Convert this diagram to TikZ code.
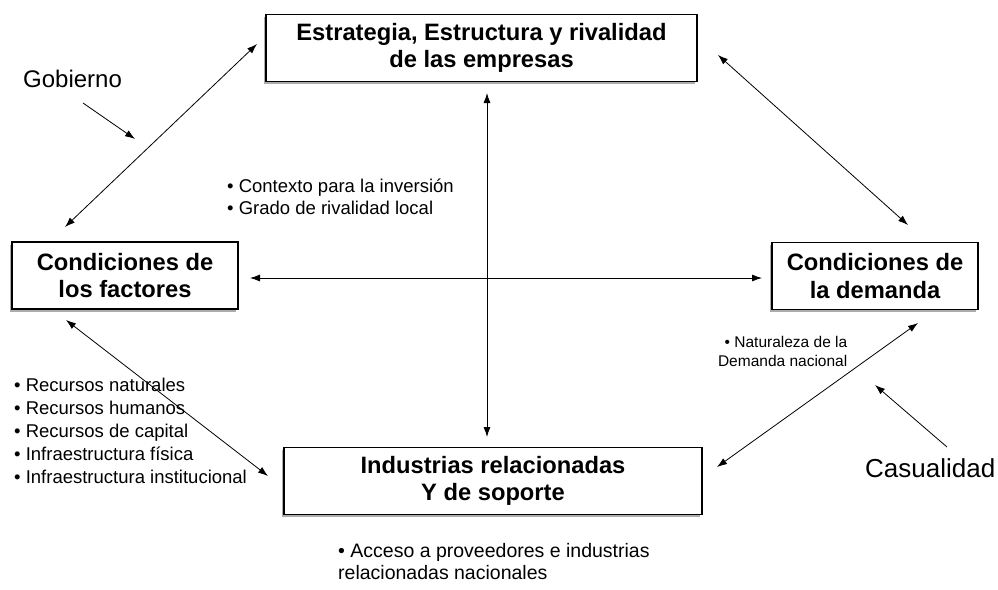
\documentclass[tikz,border=0pt]{standalone}
\usepackage{fontspec}
\setmainfont{Liberation Sans}
\usetikzlibrary{arrows.meta,shadows}
\begin{document}
\begin{tikzpicture}[x=1pt,y=-1pt,
  box/.style={draw=black, line width=1.1pt, fill=white, minimum width=#1, minimum height=67pt,
    align=center, inner sep=0pt, font=\fontsize{23.7}{27.5}\selectfont\bfseries,
    general shadow={fill=gray!65, shadow xshift=-2.5pt, shadow yshift=-2.5pt}},
  link/.style={line width=0.8pt, {Latex[length=10pt,width=7pt]}-{Latex[length=10pt,width=7pt]}},
  oneway/.style={line width=0.8pt, -{Latex[length=10pt,width=7pt]}},
  txt/.style={inner sep=0pt, font=\fontsize{18.5}{22.5}\selectfont},
  big/.style={inner sep=0pt, anchor=base west}
]
\useasboundingbox (0,0) rectangle (998,589);

% boxes
\node[box=431pt] (top) at (481.5,48) {Estrategia, Estructura y rivalidad\\de las empresas};
\node[box=226pt] (left) at (125,275.5) {Condiciones de\\los factores};
\node[box=206pt] (right) at (875,276) {Condiciones de\\la demanda};
\node[box=418pt] (bot) at (493,481) {Industrias relacionadas\\Y de soporte};

% arrow ends
\coordinate (hL) at (250,278);
\coordinate (hR) at (762,278);
\coordinate (vT) at (487,93);
\coordinate (vB) at (487,437);
\coordinate (tlA) at (257,44);
\coordinate (tlB) at (65,227);
\coordinate (trA) at (718,55);
\coordinate (trB) at (908,225);
\coordinate (blA) at (66,320);
\coordinate (blB) at (268,476);
\coordinate (brA) at (918,323);
\coordinate (brB) at (717,467);
\coordinate (gA) at (83,103);
\coordinate (gB) at (135,139);
\coordinate (cA) at (947,447);
\coordinate (cB) at (875,385);

\draw[link] (hL) -- (hR);
\draw[link] (vT) -- (vB);
\draw[link] (tlA) -- (tlB);
\draw[link] (trA) -- (trB);
\draw[link] (blA) -- (blB);
\draw[link] (brA) -- (brB);
\draw[oneway] (gA) -- (gB);
\draw[oneway] (cA) -- (cB);

% labels
\node[big, font=\fontsize{24}{28}\selectfont] (gob) at (23,87) {Gobierno};
\node[big, font=\fontsize{26}{30}\selectfont] (cas) at (865,477) {Casualidad};

\node[txt, anchor=base west] (ctx) at (227,192)
  {\vtop{\hbox{• Contexto para la inversión}\hbox{• Grado de rivalidad local}}};

\node[txt, anchor=base west, font=\fontsize{18.5}{23}\selectfont] (fac) at (14,391)
  {\vtop{\hbox{• Recursos naturales}\hbox{• Recursos humanos}\hbox{• Recursos de capital}\hbox{• Infraestructura física}\hbox{• Infraestructura institucional}}};

\node[txt, anchor=base east, font=\fontsize{15.5}{19}\selectfont] (nat) at (848,347)
  {\vtop{\hbox to 0pt{\hss • Naturaleza de la}\hbox to 0pt{\hss Demanda nacional}}};

\node[txt, anchor=base west, font=\fontsize{19.5}{22}\selectfont] (acc) at (338,557)
  {\vtop{\hbox{• Acceso a proveedores e industrias}\hbox{relacionadas nacionales}}};
\end{tikzpicture}
\end{document}
